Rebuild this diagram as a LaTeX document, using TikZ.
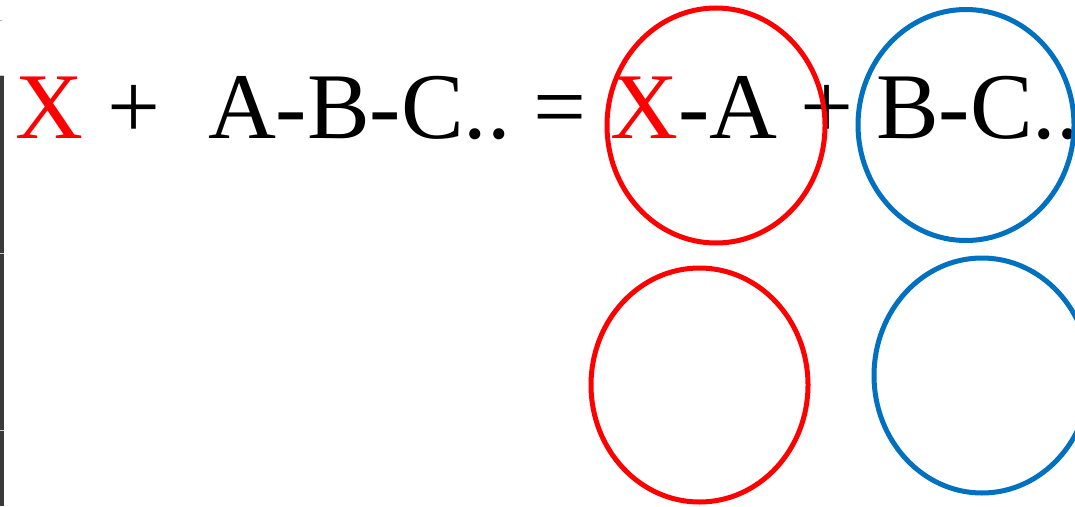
\documentclass[tikz,border=0pt]{standalone}
\usepackage{fontspec}
\setmainfont{Liberation Serif}
\definecolor{myblue}{HTML}{0070C0}
\definecolor{stripgray}{HTML}{3A3A3A}
\begin{document}
\begin{tikzpicture}[x=1pt,y=-1pt,
  eqtext/.style={anchor=base west,inner sep=0pt,outer sep=0pt,font=\fontsize{94}{94}\selectfont},
  redring/.style={draw=red,line width=5pt},
  bluering/.style={draw=myblue,line width=5pt}]
\useasboundingbox (0,0) rectangle (1075,506);
\clip (0,0) rectangle (1075,506);
\fill[white] (0,0) rectangle (1075,506);
% left strip
\fill[stripgray] (0,75) rectangle (4,506);
\draw[gray!40,line width=1pt] (0,75.5) -- (4,75.5);
\draw[gray!40,line width=1pt] (0,253) -- (4,253);
\draw[gray!40,line width=1pt] (0,430) -- (4,430);
\fill[gray!60] (0,19.5) rectangle (1.5,20.5);
% equation
\node[eqtext,text=red] (x1) at (15,138) {X};
\node[eqtext] (p1) at (107,138) {+};
\node[eqtext] (abc) at (208,138) {A-B-C..};
\node[eqtext] (eq) at (533,138) {=};
\node[eqtext,text=red] (x2) at (610,138) {X};
\node[eqtext] (ma) at (678,138) {-A};
\node[eqtext] (p2) at (800,138) {+};
\node[eqtext] (bc) at (876,138) {B-C..};
% rings
\draw[redring] (716,125.5) ellipse [x radius=109, y radius=117.5];
\draw[bluering] (966,125) ellipse [x radius=108, y radius=115.5];
\draw[redring] (699.5,385) ellipse [x radius=108.5, y radius=117];
\draw[bluering] (982,375.5) ellipse [x radius=108, y radius=117.5];
\end{tikzpicture}
\end{document}
